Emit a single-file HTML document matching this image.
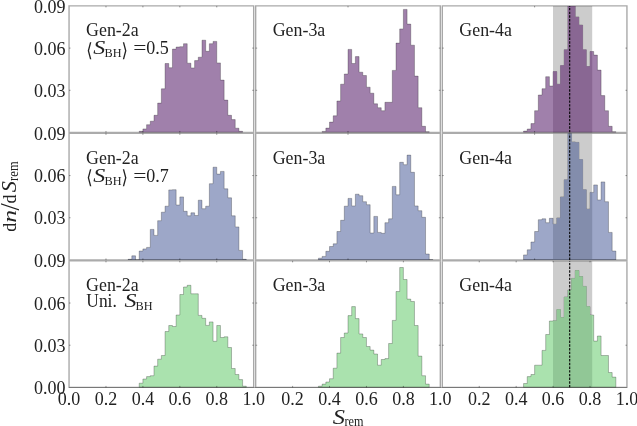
<!DOCTYPE html>
<html><head><meta charset="utf-8"><title>plot</title><style>html,body{margin:0;padding:0;background:#fff}svg{display:block}</style></head><body>
<svg width="637" height="426" viewBox="0 0 637 426">
<rect width="637" height="426" fill="#fff"/>
<defs>
<clipPath id="cp00"><rect x="69.05" y="5.92" width="184.63" height="126.55"/></clipPath>
<clipPath id="cp01"><rect x="255.68" y="5.92" width="184.63" height="126.55"/></clipPath>
<clipPath id="cp02"><rect x="442.31" y="5.92" width="184.63" height="126.55"/></clipPath>
<clipPath id="cp10"><rect x="69.05" y="133.39" width="184.63" height="126.55"/></clipPath>
<clipPath id="cp11"><rect x="255.68" y="133.39" width="184.63" height="126.55"/></clipPath>
<clipPath id="cp12"><rect x="442.31" y="133.39" width="184.63" height="126.55"/></clipPath>
<clipPath id="cp20"><rect x="69.05" y="260.86" width="184.63" height="126.55"/></clipPath>
<clipPath id="cp21"><rect x="255.68" y="260.86" width="184.63" height="126.55"/></clipPath>
<clipPath id="cp22"><rect x="442.31" y="260.86" width="184.63" height="126.55"/></clipPath>
<clipPath id="band"><rect x="553" y="0" width="39.2" height="426"/></clipPath>
</defs>
<g clip-path="url(#cp00)"><polygon points="139.21,132.47 139.21,131.30 142.90,131.30 142.90,128.90 146.59,128.90 146.59,124.70 150.29,124.70 150.29,121.20 153.98,121.20 153.98,115.30 157.67,115.30 157.67,103.10 161.37,103.10 161.37,88.80 165.06,88.80 165.06,63.50 168.75,63.50 168.75,67.70 172.44,67.70 172.44,49.10 176.14,49.10 176.14,47.00 179.83,47.00 179.83,46.70 183.52,46.70 183.52,43.70 187.21,43.70 187.21,63.20 190.91,63.20 190.91,67.90 194.60,67.90 194.60,60.60 198.29,60.60 198.29,57.20 201.98,57.20 201.98,40.20 205.68,40.20 205.68,51.30 209.37,51.30 209.37,43.70 213.06,43.70 213.06,41.40 216.75,41.40 216.75,62.90 220.45,62.90 220.45,80.10 224.14,80.10 224.14,100.10 227.83,100.10 227.83,115.30 231.52,115.30 231.52,119.60 235.22,119.60 235.22,128.20 238.91,128.20 238.91,131.30 242.60,131.30 242.60,132.47" fill="#a080ab" stroke="#000" stroke-opacity="0.36" stroke-width="0.7"/></g>
<g clip-path="url(#cp01)"><polygon points="322.15,132.47 322.15,131.40 325.84,131.40 325.84,128.10 329.53,128.10 329.53,122.10 333.22,122.10 333.22,115.80 336.92,115.80 336.92,101.00 340.61,101.00 340.61,84.20 344.30,84.20 344.30,74.00 348.00,74.00 348.00,49.40 351.69,49.40 351.69,63.50 355.38,63.50 355.38,56.60 359.07,56.60 359.07,72.20 362.77,72.20 362.77,75.50 366.46,75.50 366.46,87.20 370.15,87.20 370.15,93.20 373.84,93.20 373.84,103.80 377.54,103.80 377.54,107.70 381.23,107.70 381.23,110.70 384.92,110.70 384.92,102.30 388.61,102.30 388.61,102.30 392.31,102.30 392.31,70.40 396.00,70.40 396.00,43.10 399.69,43.10 399.69,28.90 403.38,28.90 403.38,9.40 407.08,9.40 407.08,24.10 410.77,24.10 410.77,45.20 414.46,45.20 414.46,76.10 418.15,76.10 418.15,107.70 421.85,107.70 421.85,126.30 425.54,126.30 425.54,131.70 429.23,131.70 429.23,132.47" fill="#a080ab" stroke="#000" stroke-opacity="0.36" stroke-width="0.7"/></g>
<g clip-path="url(#cp02)"><rect x="553" y="5.92" width="39.2" height="126.55" fill="#cccccc"/><polygon points="523.55,132.47 523.55,131.10 527.24,131.10 527.24,129.00 530.93,129.00 530.93,123.60 534.62,123.60 534.62,110.70 538.32,110.70 538.32,95.00 542.01,95.00 542.01,88.70 545.70,88.70 545.70,76.70 549.40,76.70 549.40,86.00 553.09,86.00 553.09,71.60 556.78,71.60 556.78,84.20 560.47,84.20 560.47,65.60 564.17,65.60 564.17,49.70 567.86,49.70 567.86,-7.10 571.55,-7.10 571.55,-7.10 575.24,-7.10 575.24,16.90 578.94,16.90 578.94,25.00 582.63,25.00 582.63,49.70 586.32,49.70 586.32,66.50 590.01,66.50 590.01,51.50 593.71,51.50 593.71,55.10 597.40,55.10 597.40,70.10 601.09,70.10 601.09,95.60 604.78,95.60 604.78,110.70 608.48,110.70 608.48,126.30 612.17,126.30 612.17,131.70 615.86,131.70 615.86,132.47" fill="#a080ab" stroke="#000" stroke-opacity="0.36" stroke-width="0.7"/><g clip-path="url(#band)"><polygon points="523.55,132.47 523.55,131.10 527.24,131.10 527.24,129.00 530.93,129.00 530.93,123.60 534.62,123.60 534.62,110.70 538.32,110.70 538.32,95.00 542.01,95.00 542.01,88.70 545.70,88.70 545.70,76.70 549.40,76.70 549.40,86.00 553.09,86.00 553.09,71.60 556.78,71.60 556.78,84.20 560.47,84.20 560.47,65.60 564.17,65.60 564.17,49.70 567.86,49.70 567.86,-7.10 571.55,-7.10 571.55,-7.10 575.24,-7.10 575.24,16.90 578.94,16.90 578.94,25.00 582.63,25.00 582.63,49.70 586.32,49.70 586.32,66.50 590.01,66.50 590.01,51.50 593.71,51.50 593.71,55.10 597.40,55.10 597.40,70.10 601.09,70.10 601.09,95.60 604.78,95.60 604.78,110.70 608.48,110.70 608.48,126.30 612.17,126.30 612.17,131.70 615.86,131.70 615.86,132.47" fill="#896793"/></g><line x1="569.7" x2="569.7" y1="132.47" y2="5.92" stroke="#000" stroke-width="1.1" stroke-dasharray="2.4 1.3"/></g>
<g clip-path="url(#cp10)"><polygon points="128.13,259.94 128.13,259.30 131.82,259.30 131.82,255.80 135.52,255.80 135.52,259.80 139.21,259.80 139.21,251.00 142.90,251.00 142.90,248.90 146.59,248.90 146.59,247.40 150.29,247.40 150.29,229.40 153.98,229.40 153.98,235.40 157.67,235.40 157.67,220.70 161.37,220.70 161.37,212.20 165.06,212.20 165.06,206.20 168.75,206.20 168.75,189.90 172.44,189.90 172.44,189.70 176.14,189.70 176.14,205.00 179.83,205.00 179.83,196.90 183.52,196.90 183.52,211.30 187.21,211.30 187.21,215.80 190.91,215.80 190.91,212.80 194.60,212.80 194.60,215.50 198.29,215.50 198.29,200.20 201.98,200.20 201.98,208.70 205.68,208.70 205.68,206.20 209.37,206.20 209.37,183.70 213.06,183.70 213.06,167.20 216.75,167.20 216.75,174.10 220.45,174.10 220.45,171.40 224.14,171.40 224.14,188.80 227.83,188.80 227.83,197.80 231.52,197.80 231.52,215.80 235.22,215.80 235.22,226.90 238.91,226.90 238.91,250.40 242.60,250.40 242.60,259.30 246.29,259.30 246.29,259.94" fill="#9da7c8" stroke="#000" stroke-opacity="0.36" stroke-width="0.7"/></g>
<g clip-path="url(#cp11)"><polygon points="318.45,259.94 318.45,258.20 322.15,258.20 322.15,256.40 325.84,256.40 325.84,251.30 329.53,251.30 329.53,246.50 333.22,246.50 333.22,243.80 336.92,243.80 336.92,231.50 340.61,231.50 340.61,220.30 344.30,220.30 344.30,206.20 348.00,206.20 348.00,198.40 351.69,198.40 351.69,205.90 355.38,205.90 355.38,194.20 359.07,194.20 359.07,195.70 362.77,195.70 362.77,201.70 366.46,201.70 366.46,204.70 370.15,204.70 370.15,233.00 373.84,233.00 373.84,216.40 377.54,216.40 377.54,232.40 381.23,232.40 381.23,233.30 384.92,233.30 384.92,222.70 388.61,222.70 388.61,218.80 392.31,218.80 392.31,186.40 396.00,186.40 396.00,194.80 399.69,194.80 399.69,162.30 403.38,162.30 403.38,164.70 407.08,164.70 407.08,155.10 410.77,155.10 410.77,172.30 414.46,172.30 414.46,205.90 418.15,205.90 418.15,210.70 421.85,210.70 421.85,217.30 425.54,217.30 425.54,254.00 429.23,254.00 429.23,259.70 432.92,259.70 432.92,259.94" fill="#9da7c8" stroke="#000" stroke-opacity="0.36" stroke-width="0.7"/></g>
<g clip-path="url(#cp12)"><rect x="553" y="133.39" width="39.2" height="126.55" fill="#cccccc"/><polygon points="523.55,259.94 523.55,254.90 527.24,254.90 527.24,249.80 530.93,249.80 530.93,242.00 534.62,242.00 534.62,231.50 538.32,231.50 538.32,219.70 542.01,219.70 542.01,218.80 545.70,218.80 545.70,222.70 549.40,222.70 549.40,218.30 553.09,218.30 553.09,224.20 556.78,224.20 556.78,217.90 560.47,217.90 560.47,196.90 564.17,196.90 564.17,179.80 567.86,179.80 567.86,120.30 571.55,120.30 571.55,141.90 575.24,141.90 575.24,142.40 578.94,142.40 578.94,159.60 582.63,159.60 582.63,189.70 586.32,189.70 586.32,209.10 590.01,209.10 590.01,192.40 593.71,192.40 593.71,184.90 597.40,184.90 597.40,199.90 601.09,199.90 601.09,181.90 604.78,181.90 604.78,201.70 608.48,201.70 608.48,232.40 612.17,232.40 612.17,251.00 615.86,251.00 615.86,259.94" fill="#9da7c8" stroke="#000" stroke-opacity="0.36" stroke-width="0.7"/><g clip-path="url(#band)"><polygon points="523.55,259.94 523.55,254.90 527.24,254.90 527.24,249.80 530.93,249.80 530.93,242.00 534.62,242.00 534.62,231.50 538.32,231.50 538.32,219.70 542.01,219.70 542.01,218.80 545.70,218.80 545.70,222.70 549.40,222.70 549.40,218.30 553.09,218.30 553.09,224.20 556.78,224.20 556.78,217.90 560.47,217.90 560.47,196.90 564.17,196.90 564.17,179.80 567.86,179.80 567.86,120.30 571.55,120.30 571.55,141.90 575.24,141.90 575.24,142.40 578.94,142.40 578.94,159.60 582.63,159.60 582.63,189.70 586.32,189.70 586.32,209.10 590.01,209.10 590.01,192.40 593.71,192.40 593.71,184.90 597.40,184.90 597.40,199.90 601.09,199.90 601.09,181.90 604.78,181.90 604.78,201.70 608.48,201.70 608.48,232.40 612.17,232.40 612.17,251.00 615.86,251.00 615.86,259.94" fill="#838dac"/></g><line x1="569.7" x2="569.7" y1="259.94" y2="133.39" stroke="#000" stroke-width="1.1" stroke-dasharray="2.4 1.3"/></g>
<g clip-path="url(#cp20)"><polygon points="139.21,387.41 139.21,383.21 142.90,383.21 142.90,379.01 146.59,379.01 146.59,376.61 150.29,376.61 150.29,375.71 153.98,375.71 153.98,366.11 157.67,366.11 157.67,359.21 161.37,359.21 161.37,355.51 165.06,355.51 165.06,331.51 168.75,331.51 168.75,325.51 172.44,325.51 172.44,326.51 176.14,326.51 176.14,315.01 179.83,315.01 179.83,294.51 183.52,294.51 183.52,287.01 187.21,287.01 187.21,285.31 190.91,285.31 190.91,293.81 194.60,293.81 194.60,293.81 198.29,293.81 198.29,315.41 201.98,315.41 201.98,318.31 205.68,318.31 205.68,325.41 209.37,325.41 209.37,321.91 213.06,321.91 213.06,341.31 216.75,341.31 216.75,325.51 220.45,325.51 220.45,337.51 224.14,337.51 224.14,336.81 227.83,336.81 227.83,347.51 231.52,347.51 231.52,368.51 235.22,368.51 235.22,374.51 238.91,374.51 238.91,379.61 242.60,379.61 242.60,386.21 246.29,386.21 246.29,387.41" fill="#aae2ae" stroke="#000" stroke-opacity="0.36" stroke-width="0.7"/></g>
<g clip-path="url(#cp21)"><polygon points="318.45,387.41 318.45,386.21 322.15,386.21 322.15,384.11 325.84,384.11 325.84,382.01 329.53,382.01 329.53,378.71 333.22,378.71 333.22,368.21 336.92,368.21 336.92,353.11 340.61,353.11 340.61,337.51 344.30,337.51 344.30,333.01 348.00,333.01 348.00,315.61 351.69,315.61 351.69,306.61 355.38,306.61 355.38,318.61 359.07,318.61 359.07,333.91 362.77,333.91 362.77,337.51 366.46,337.51 366.46,346.51 370.15,346.51 370.15,350.11 373.84,350.11 373.84,354.01 377.54,354.01 377.54,365.21 381.23,365.21 381.23,359.51 384.92,359.51 384.92,358.61 388.61,358.61 388.61,343.51 392.31,343.51 392.31,320.41 396.00,320.41 396.00,291.51 399.69,291.51 399.69,267.51 403.38,267.51 403.38,279.51 407.08,279.51 407.08,299.11 410.77,299.11 410.77,301.51 414.46,301.51 414.46,325.51 418.15,325.51 418.15,356.11 421.85,356.11 421.85,375.71 425.54,375.71 425.54,384.11 429.23,384.11 429.23,387.41" fill="#aae2ae" stroke="#000" stroke-opacity="0.36" stroke-width="0.7"/></g>
<g clip-path="url(#cp22)"><rect x="553" y="260.86" width="39.2" height="126.55" fill="#cccccc"/><polygon points="523.55,387.41 523.55,383.51 527.24,383.51 527.24,376.61 530.93,376.61 530.93,374.51 534.62,374.51 534.62,365.21 538.32,365.21 538.32,365.21 542.01,365.21 542.01,350.41 545.70,350.41 545.70,334.51 549.40,334.51 549.40,321.01 553.09,321.01 553.09,320.71 556.78,320.71 556.78,309.61 560.47,309.61 560.47,317.51 564.17,317.51 564.17,297.01 567.86,297.01 567.86,290.01 571.55,290.01 571.55,278.41 575.24,278.41 575.24,270.51 578.94,270.51 578.94,276.51 582.63,276.51 582.63,286.41 586.32,286.41 586.32,306.61 590.01,306.61 590.01,315.01 593.71,315.01 593.71,341.11 597.40,341.11 597.40,336.01 601.09,336.01 601.09,355.51 604.78,355.51 604.78,355.51 608.48,355.51 608.48,372.51 612.17,372.51 612.17,377.11 615.86,377.11 615.86,387.41" fill="#aae2ae" stroke="#000" stroke-opacity="0.36" stroke-width="0.7"/><g clip-path="url(#band)"><polygon points="523.55,387.41 523.55,383.51 527.24,383.51 527.24,376.61 530.93,376.61 530.93,374.51 534.62,374.51 534.62,365.21 538.32,365.21 538.32,365.21 542.01,365.21 542.01,350.41 545.70,350.41 545.70,334.51 549.40,334.51 549.40,321.01 553.09,321.01 553.09,320.71 556.78,320.71 556.78,309.61 560.47,309.61 560.47,317.51 564.17,317.51 564.17,297.01 567.86,297.01 567.86,290.01 571.55,290.01 571.55,278.41 575.24,278.41 575.24,270.51 578.94,270.51 578.94,276.51 582.63,276.51 582.63,286.41 586.32,286.41 586.32,306.61 590.01,306.61 590.01,315.01 593.71,315.01 593.71,341.11 597.40,341.11 597.40,336.01 601.09,336.01 601.09,355.51 604.78,355.51 604.78,355.51 608.48,355.51 608.48,372.51 612.17,372.51 612.17,377.11 615.86,377.11 615.86,387.41" fill="#91c796"/></g><line x1="569.7" x2="569.7" y1="387.41" y2="260.86" stroke="#000" stroke-width="1.1" stroke-dasharray="2.4 1.3"/></g>
<line x1="69.05" x2="626.94" y1="387.46" y2="387.46" stroke="#000" stroke-opacity="0.3" stroke-width="1"/>
<path d="M69.05 5.22V131.78M253.68 5.22V131.78M69.74 5.92H252.99" fill="none" stroke="#000" stroke-opacity="0.34" stroke-width="1.39"/>
<path d="M68.36 132.93H254.38" fill="none" stroke="#000" stroke-opacity="0.33" stroke-width="2.3"/>
<path d="M105.98 132.47v-1.5M105.98 5.92v1.5M142.90 132.47v-1.5M142.90 5.92v1.5M179.83 132.47v-1.5M179.83 5.92v1.5M216.75 132.47v-1.5M216.75 5.92v1.5M69.05 90.29h1.5M253.68 90.29h-1.5M69.05 48.10h1.5M253.68 48.10h-1.5" stroke="#000" stroke-opacity="0.38" stroke-width="1" fill="none"/>
<path d="M255.68 5.22V131.78M440.31 5.22V131.78M256.38 5.92H439.62" fill="none" stroke="#000" stroke-opacity="0.34" stroke-width="1.39"/>
<path d="M254.99 132.93H441.00" fill="none" stroke="#000" stroke-opacity="0.33" stroke-width="2.3"/>
<path d="M348.00 132.47v-1.5M348.00 5.92v1.5M255.68 90.29h1.5M440.31 90.29h-1.5M255.68 48.10h1.5M440.31 48.10h-1.5" stroke="#000" stroke-opacity="0.38" stroke-width="1" fill="none"/>
<path d="M442.31 5.22V131.78M626.94 5.22V131.78M443.00 5.92H626.25" fill="none" stroke="#000" stroke-opacity="0.34" stroke-width="1.39"/>
<path d="M441.62 132.93H627.64" fill="none" stroke="#000" stroke-opacity="0.33" stroke-width="2.3"/>
<path d="M534.62 132.47v-1.5M534.62 5.92v1.5M442.31 90.29h1.5M626.94 90.29h-1.5M442.31 48.10h1.5M626.94 48.10h-1.5" stroke="#000" stroke-opacity="0.38" stroke-width="1" fill="none"/>
<path d="M69.05 134.08V259.25M253.68 134.08V259.25" fill="none" stroke="#000" stroke-opacity="0.34" stroke-width="1.39"/>
<path d="M68.36 260.40H254.38" fill="none" stroke="#000" stroke-opacity="0.33" stroke-width="2.3"/>
<path d="M105.98 259.94v-1.5M105.98 133.39v1.5M142.90 259.94v-1.5M142.90 133.39v1.5M179.83 259.94v-1.5M179.83 133.39v1.5M216.75 259.94v-1.5M216.75 133.39v1.5M69.05 217.76h1.5M253.68 217.76h-1.5M69.05 175.57h1.5M253.68 175.57h-1.5" stroke="#000" stroke-opacity="0.38" stroke-width="1" fill="none"/>
<path d="M255.68 134.08V259.25M440.31 134.08V259.25" fill="none" stroke="#000" stroke-opacity="0.34" stroke-width="1.39"/>
<path d="M254.99 260.40H441.00" fill="none" stroke="#000" stroke-opacity="0.33" stroke-width="2.3"/>
<path d="M348.00 259.94v-1.5M348.00 133.39v1.5M255.68 217.76h1.5M440.31 217.76h-1.5M255.68 175.57h1.5M440.31 175.57h-1.5" stroke="#000" stroke-opacity="0.38" stroke-width="1" fill="none"/>
<path d="M442.31 134.08V259.25M626.94 134.08V259.25" fill="none" stroke="#000" stroke-opacity="0.34" stroke-width="1.39"/>
<path d="M441.62 260.40H627.64" fill="none" stroke="#000" stroke-opacity="0.33" stroke-width="2.3"/>
<path d="M534.62 259.94v-1.5M534.62 133.39v1.5M442.31 217.76h1.5M626.94 217.76h-1.5M442.31 175.57h1.5M626.94 175.57h-1.5" stroke="#000" stroke-opacity="0.38" stroke-width="1" fill="none"/>
<path d="M69.05 261.55V388.11M253.68 261.55V388.11M69.74 387.41H252.99" fill="none" stroke="#000" stroke-opacity="0.34" stroke-width="1.39"/>
<path d="M105.98 387.41v-1.5M105.98 260.86v1.5M142.90 387.41v-1.5M142.90 260.86v1.5M179.83 387.41v-1.5M179.83 260.86v1.5M216.75 387.41v-1.5M216.75 260.86v1.5M69.05 345.23h1.5M253.68 345.23h-1.5M69.05 303.04h1.5M253.68 303.04h-1.5" stroke="#000" stroke-opacity="0.38" stroke-width="1" fill="none"/>
<path d="M255.68 261.55V388.11M440.31 261.55V388.11M256.38 387.41H439.62" fill="none" stroke="#000" stroke-opacity="0.34" stroke-width="1.39"/>
<path d="M292.61 387.41v-1.5M292.61 260.86v1.5M329.53 387.41v-1.5M329.53 260.86v1.5M366.46 387.41v-1.5M366.46 260.86v1.5M403.38 387.41v-1.5M403.38 260.86v1.5M255.68 345.23h1.5M440.31 345.23h-1.5M255.68 303.04h1.5M440.31 303.04h-1.5" stroke="#000" stroke-opacity="0.38" stroke-width="1" fill="none"/>
<path d="M442.31 261.55V388.11M626.94 261.55V388.11M443.00 387.41H626.25" fill="none" stroke="#000" stroke-opacity="0.34" stroke-width="1.39"/>
<path d="M479.24 387.41v-1.5M479.24 260.86v1.5M516.16 387.41v-1.5M516.16 260.86v1.5M553.09 387.41v-1.5M553.09 260.86v1.5M590.01 387.41v-1.5M590.01 260.86v1.5M442.31 345.23h1.5M626.94 345.23h-1.5M442.31 303.04h1.5M626.94 303.04h-1.5" stroke="#000" stroke-opacity="0.38" stroke-width="1" fill="none"/>
<g font-family="'Liberation Serif', 'DejaVu Sans', serif" fill="#222">
<text x="65.60" y="12.52" font-size="18" text-anchor="end">0.09</text>
<text x="65.60" y="54.70" font-size="18" text-anchor="end">0.06</text>
<text x="65.60" y="96.89" font-size="18" text-anchor="end">0.03</text>
<text x="65.60" y="139.99" font-size="18" text-anchor="end">0.09</text>
<text x="65.60" y="182.17" font-size="18" text-anchor="end">0.06</text>
<text x="65.60" y="224.36" font-size="18" text-anchor="end">0.03</text>
<text x="65.60" y="267.46" font-size="18" text-anchor="end">0.09</text>
<text x="65.60" y="309.64" font-size="18" text-anchor="end">0.06</text>
<text x="65.60" y="351.83" font-size="18" text-anchor="end">0.03</text>
<text x="65.60" y="394.01" font-size="18" text-anchor="end">0.00</text>
<text x="69.05" y="404.80" font-size="18" text-anchor="middle">0.0</text>
<text x="105.98" y="404.80" font-size="18" text-anchor="middle">0.2</text>
<text x="142.90" y="404.80" font-size="18" text-anchor="middle">0.4</text>
<text x="179.83" y="404.80" font-size="18" text-anchor="middle">0.6</text>
<text x="216.75" y="404.80" font-size="18" text-anchor="middle">0.8</text>
<text x="253.68" y="404.80" font-size="18" text-anchor="middle">1.0</text>
<text x="292.61" y="404.80" font-size="18" text-anchor="middle">0.2</text>
<text x="329.53" y="404.80" font-size="18" text-anchor="middle">0.4</text>
<text x="366.46" y="404.80" font-size="18" text-anchor="middle">0.6</text>
<text x="403.38" y="404.80" font-size="18" text-anchor="middle">0.8</text>
<text x="440.31" y="404.80" font-size="18" text-anchor="middle">1.0</text>
<text x="479.24" y="404.80" font-size="18" text-anchor="middle">0.2</text>
<text x="516.16" y="404.80" font-size="18" text-anchor="middle">0.4</text>
<text x="553.09" y="404.80" font-size="18" text-anchor="middle">0.6</text>
<text x="590.01" y="404.80" font-size="18" text-anchor="middle">0.8</text>
<text x="626.94" y="404.80" font-size="18" text-anchor="middle">1.0</text>
<text x="86.10" y="36.12" font-size="18.2" textLength="52.60" lengthAdjust="spacingAndGlyphs">Gen-2a</text>
<text x="272.70" y="36.12" font-size="18.2" textLength="52.60" lengthAdjust="spacingAndGlyphs">Gen-3a</text>
<text x="459.30" y="36.12" font-size="18.2" textLength="52.60" lengthAdjust="spacingAndGlyphs">Gen-4a</text>
<text x="86.10" y="163.99" font-size="18.2" textLength="52.60" lengthAdjust="spacingAndGlyphs">Gen-2a</text>
<text x="272.70" y="163.99" font-size="18.2" textLength="52.60" lengthAdjust="spacingAndGlyphs">Gen-3a</text>
<text x="459.30" y="163.99" font-size="18.2" textLength="52.60" lengthAdjust="spacingAndGlyphs">Gen-4a</text>
<text x="86.10" y="291.46" font-size="18.2" textLength="52.60" lengthAdjust="spacingAndGlyphs">Gen-2a</text>
<text x="272.70" y="291.46" font-size="18.2" textLength="52.60" lengthAdjust="spacingAndGlyphs">Gen-3a</text>
<text x="459.30" y="291.46" font-size="18.2" textLength="52.60" lengthAdjust="spacingAndGlyphs">Gen-4a</text>
<text x="86.20" y="56.72" font-size="19.2" textLength="6.40" lengthAdjust="spacingAndGlyphs">⟨</text>
<text x="93.20" y="54.12" font-size="19" font-style="italic" textLength="12.00" lengthAdjust="spacingAndGlyphs">S</text>
<text x="104.60" y="57.22" font-size="12.6" textLength="17.00" lengthAdjust="spacingAndGlyphs">BH</text>
<text x="121.40" y="56.72" font-size="19.2" textLength="6.40" lengthAdjust="spacingAndGlyphs">⟩</text>
<text x="133.20" y="54.12" font-size="18" textLength="13.20" lengthAdjust="spacingAndGlyphs">=</text>
<text x="146.20" y="54.12" font-size="18">0.5</text>
<text x="86.20" y="184.49" font-size="19.2" textLength="6.40" lengthAdjust="spacingAndGlyphs">⟨</text>
<text x="93.20" y="181.89" font-size="19" font-style="italic" textLength="12.00" lengthAdjust="spacingAndGlyphs">S</text>
<text x="104.60" y="184.99" font-size="12.6" textLength="17.00" lengthAdjust="spacingAndGlyphs">BH</text>
<text x="121.40" y="184.49" font-size="19.2" textLength="6.40" lengthAdjust="spacingAndGlyphs">⟩</text>
<text x="133.20" y="181.89" font-size="18" textLength="13.20" lengthAdjust="spacingAndGlyphs">=</text>
<text x="146.20" y="181.89" font-size="18">0.7</text>
<text x="86.30" y="306.96" font-size="18.2" textLength="30.50" lengthAdjust="spacingAndGlyphs">Uni.</text>
<text x="124.40" y="306.96" font-size="19" font-style="italic" textLength="12.00" lengthAdjust="spacingAndGlyphs">S</text>
<text x="135.60" y="310.36" font-size="12.6" textLength="17.00" lengthAdjust="spacingAndGlyphs">BH</text>
<text x="332.80" y="423.80" font-size="20.2" font-style="italic" textLength="12.20" lengthAdjust="spacingAndGlyphs">S</text>
<text x="344.50" y="425.70" font-size="14.3" textLength="19.00" lengthAdjust="spacingAndGlyphs">rem</text>
<g transform="translate(15.5,231.5) rotate(-90)">
<text x="-0.30" y="0.00" font-size="19.6" textLength="8.90" lengthAdjust="spacingAndGlyphs">d</text>
<text x="8.70" y="0.00" font-size="19.6" font-style="italic" textLength="12.80" lengthAdjust="spacingAndGlyphs">n</text>
<text x="21.10" y="3.40" font-size="26.5">/</text>
<text x="27.90" y="0.00" font-size="19.6" textLength="8.90" lengthAdjust="spacingAndGlyphs">d</text>
<text x="39.20" y="0.00" font-size="20.5" font-style="italic" textLength="11.20" lengthAdjust="spacingAndGlyphs">S</text>
<text x="50.60" y="2.10" font-size="14.3" textLength="19.60" lengthAdjust="spacingAndGlyphs">rem</text>
</g>
</g>
</svg>
</body></html>
